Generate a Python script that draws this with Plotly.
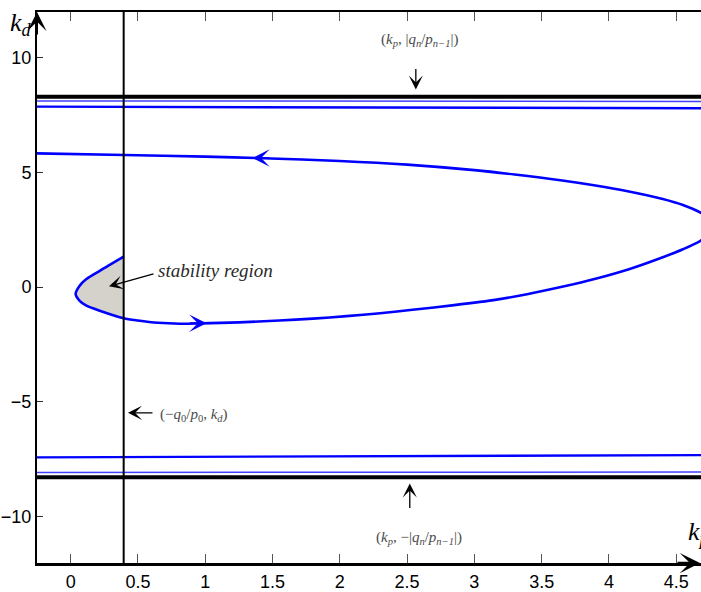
import plotly.graph_objects as go

# ---------------- data ----------------
# D-decomposition boundary curve (k_p, k_d), traced from top-left round the tip to the vertex
curve_kp = [-0.25, 0.40, 1.00, 1.43, 2.00, 2.50, 3.00, 3.30, 3.64, 3.90, 4.13, 4.40, 4.55,
            4.68, 4.76, 4.785,
            4.76, 4.68, 4.55, 4.40, 4.16, 3.90, 3.66, 3.40, 3.165, 2.85, 2.54, 2.30, 2.05,
            1.80, 1.55, 1.25, 0.96, 0.81, 0.65, 0.50,
            0.394, 0.216, 0.117, 0.067, 0.037, 0.067, 0.117, 0.216, 0.394]
curve_kd = [5.83, 5.76, 5.69, 5.62, 5.50, 5.34, 5.10, 4.91, 4.66, 4.43, 4.19, 3.84, 3.58,
            3.25, 2.95, 2.65,
            2.40, 2.02, 1.65, 1.30, 0.80, 0.36, 0.02, -0.30, -0.55, -0.79, -0.99, -1.14, -1.27,
            -1.38, -1.46, -1.54, -1.585, -1.60, -1.56, -1.46,
            -1.36, -1.03, -0.81, -0.60, -0.30, 0.06, 0.35, 0.71, 1.33]

# boundary k_p = -q0/p0
kp_limit = 0.394
vline_kd = [-13, 13]

# horizontal asymptote lines
hline_kp = [-0.25, 4.75]
asym_black_top = [8.30, 8.30]
asym_blue_top_thin = [8.12, 8.10]
asym_blue_top = [7.87, 7.80]
asym_blue_bot = [-7.43, -7.33]
asym_blue_bot_thin = [-8.09, -8.07]
asym_black_bot = [-8.30, -8.30]

x_ticks = [0, 0.5, 1, 1.5, 2, 2.5, 3, 3.5, 4, 4.5]
x_ticktext = ["0", "0.5", "1", "1.5", "2", "2.5", "3", "3.5", "4", "4.5"]
y_ticks = [-10, -5, 0, 5, 10]
y_ticktext = ["\u221210", "\u22125", "0", "5", "10"]

# ---------------------------------------------------------------
BLUE = "#0000ff"
fig = go.Figure()

# shaded stability region (part of the curve left of k_p limit)
i0 = curve_kp.index(kp_limit)
fig.add_trace(go.Scatter(x=curve_kp[i0:], y=curve_kd[i0:], mode="lines",
                         line=dict(width=0, shape="spline", smoothing=0.8),
                         fill="toself", fillcolor="#d5d1cb", hoverinfo="skip", showlegend=False))

fig.add_trace(go.Scatter(x=curve_kp, y=curve_kd, mode="lines",
                         line=dict(color=BLUE, width=2.6, shape="spline", smoothing=0.8),
                         showlegend=False))

for ys, col, w in [(asym_blue_top, BLUE, 2.4), (asym_blue_top_thin, "#4040ff", 1.5),
                   (asym_black_top, "black", 4), (asym_blue_bot, BLUE, 2.4),
                   (asym_blue_bot_thin, "#4040ff", 1.5), (asym_black_bot, "black", 4)]:
    fig.add_trace(go.Scatter(x=hline_kp, y=ys, mode="lines",
                             line=dict(color=col, width=w), showlegend=False))

fig.add_trace(go.Scatter(x=[kp_limit, kp_limit], y=vline_kd, mode="lines",
                         line=dict(color="black", width=2), showlegend=False))

# ticks-only top frame axis
fig.add_trace(go.Scatter(x=[None], y=[None], xaxis="x2", showlegend=False))

serif = "Liberation Serif, DejaVu Serif, serif"
gray = "#4a4a4a"
ann = []
# direction arrows on the blue curve
ann.append(dict(x=1.35, y=5.63, xref="x", yref="y", ax=18, ay=0, text="", showarrow=True,
                arrowhead=3, arrowsize=1.45, arrowwidth=2, arrowcolor=BLUE, standoff=0))
ann.append(dict(x=1.01, y=-1.58, xref="x", yref="y", ax=-18, ay=0, text="", showarrow=True,
                arrowhead=3, arrowsize=1.45, arrowwidth=2, arrowcolor=BLUE, standoff=0))
# annotation arrows
ann.append(dict(x=2.565, y=8.62, xref="x", yref="y", ax=0, ay=-22, text="", showarrow=True,
                arrowhead=3, arrowsize=1.8, arrowwidth=1.3, arrowcolor="black", standoff=0))
ann.append(dict(x=2.52, y=-8.57, xref="x", yref="y", ax=0, ay=26, text="", showarrow=True,
                arrowhead=3, arrowsize=1.8, arrowwidth=1.3, arrowcolor="black", standoff=0))
ann.append(dict(x=0.426, y=-5.49, xref="x", yref="y", ax=26, ay=0, text="", showarrow=True,
                arrowhead=3, arrowsize=1.8, arrowwidth=1.3, arrowcolor="black", standoff=0))
ann.append(dict(x=0.285, y=0.03, xref="x", yref="y", ax=46, ay=-13, text="", showarrow=True,
                arrowhead=3, arrowsize=1.8, arrowwidth=1.3, arrowcolor="black", standoff=0))
# texts
ann.append(dict(x=2.59, y=10.78, xref="x", yref="y", showarrow=False,
                text="(<i>k<sub>p</sub></i>, |<i>q<sub>n</sub></i>/<i>p<sub>n\u22121</sub></i>|)",
                font=dict(family=serif, size=15, color=gray)))
ann.append(dict(x=2.59, y=-10.96, xref="x", yref="y", showarrow=False,
                text="(<i>k<sub>p</sub></i>, \u2212|<i>q<sub>n</sub></i>/<i>p<sub>n\u22121</sub></i>|)",
                font=dict(family=serif, size=15, color=gray)))
ann.append(dict(x=0.915, y=-5.6, xref="x", yref="y", showarrow=False,
                text="(\u2212<i>q</i><sub>0</sub>/<i>p</i><sub>0</sub>, <i>k<sub>d</sub></i>)",
                font=dict(family=serif, size=15, color=gray)))
ann.append(dict(x=0.635, y=0.71, xref="x", yref="y", showarrow=False, xanchor="left",
                text="<i>stability region</i>",
                font=dict(family=serif, size=19, color="#2a2a2a")))
ann.append(dict(x=-0.043, y=1.01, xref="paper", yref="paper", showarrow=False,
                xanchor="left", yanchor="top",
                text="<i>k<sub>d</sub></i>", font=dict(family=serif, size=26, color="black")))
ann.append(dict(x=0.978, y=0.088, xref="paper", yref="paper", showarrow=False,
                xanchor="left", yanchor="top",
                text="<i>k<sub>p</sub></i>", font=dict(family=serif, size=26, color="black")))
# axis arrows
ann.append(dict(x=0, y=1.0, xref="paper", yref="paper", ax=0, ay=24, text="", showarrow=True,
                arrowhead=3, arrowsize=1.6, arrowwidth=2, arrowcolor="black", standoff=0))
ann.append(dict(x=0.9985, y=0, xref="paper", yref="paper", ax=-24, ay=0, text="", showarrow=True,
                arrowhead=3, arrowsize=1.35, arrowwidth=2.5, arrowcolor="black", standoff=0))

tickfont = dict(family="Liberation Sans Narrow, Arial Narrow, Liberation Sans, sans-serif",
                size=18, color="black")
fig.update_layout(
    width=701, height=592,
    margin=dict(l=37, r=0, t=12, b=27),
    paper_bgcolor="white", plot_bgcolor="white",
    showlegend=False,
    annotations=ann,
    xaxis=dict(range=[-0.25, 4.684], tickvals=x_ticks, ticktext=x_ticktext,
               showgrid=False, zeroline=False, showline=True, linecolor="black", linewidth=3,
               ticks="inside", ticklen=9, tickcolor="#555", tickwidth=1, tickfont=tickfont),
    xaxis2=dict(range=[-0.25, 4.684], overlaying="x", side="top", tickvals=x_ticks,
                showticklabels=False, showgrid=False, zeroline=False, showline=True,
                linecolor="black", linewidth=1.5, ticks="inside", ticklen=9,
                tickcolor="#555", tickwidth=1),
    yaxis=dict(range=[-12.04, 12.0], tickvals=y_ticks, ticktext=y_ticktext,
               showgrid=False, zeroline=False, showline=True, linecolor="black", linewidth=2,
               ticks="inside", ticklen=6, tickcolor="#333", tickwidth=1, tickfont=tickfont),
)

fig.write_html("out.html")
